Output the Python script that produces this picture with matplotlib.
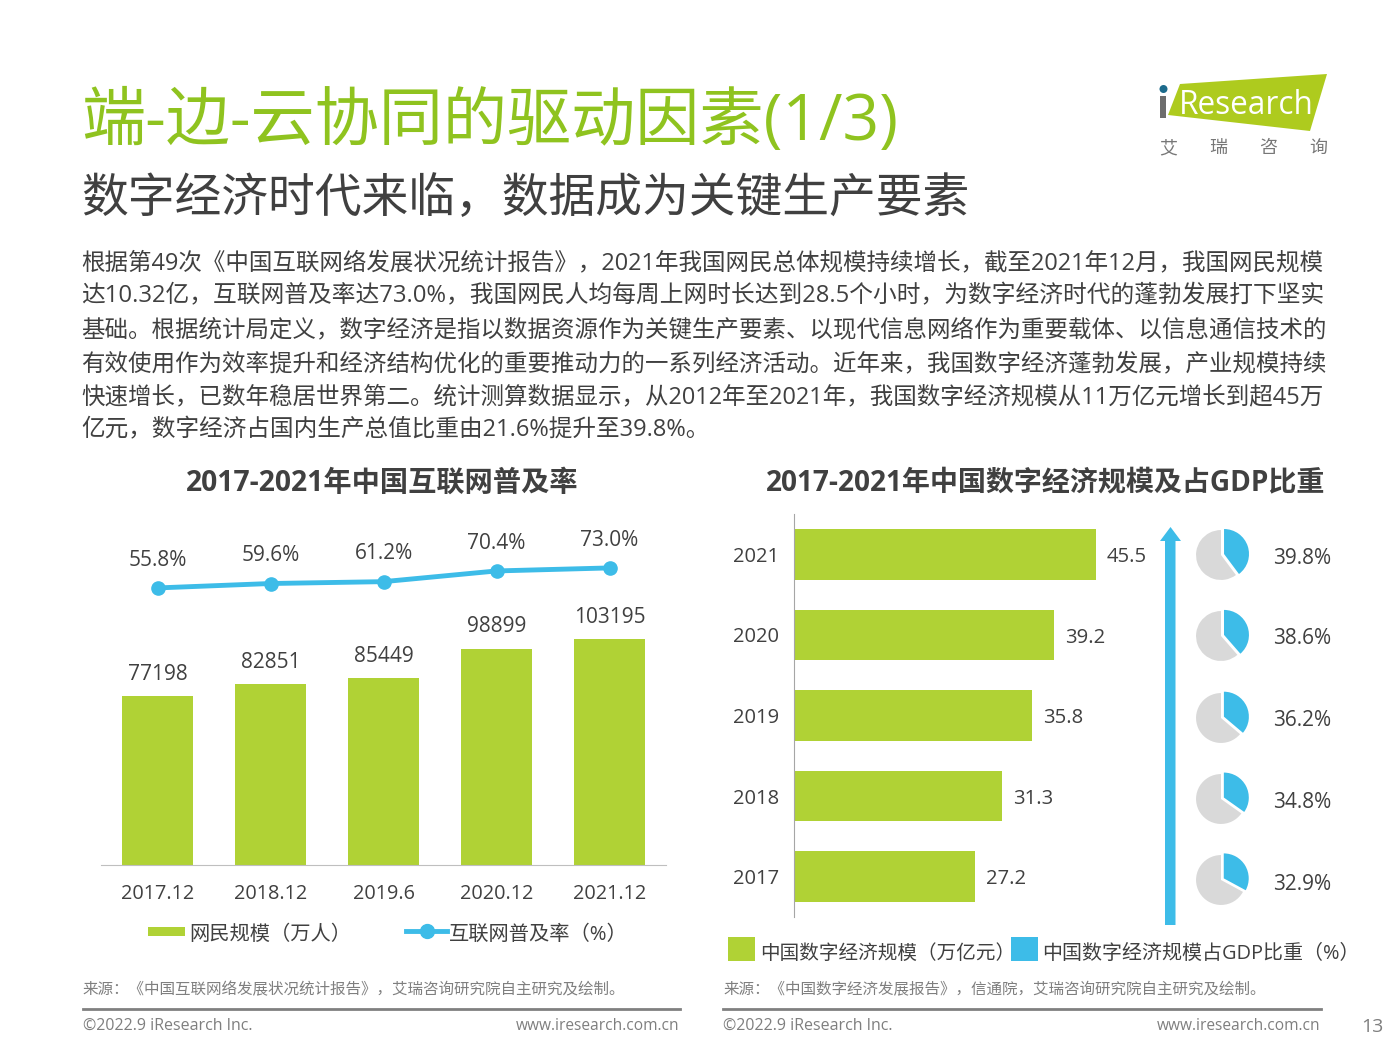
import matplotlib
matplotlib.use("Agg")
import matplotlib.pyplot as plt
from matplotlib.patches import Polygon, Rectangle, Circle
from matplotlib.lines import Line2D

plt.rcParams["font.family"] = ["Open Sans", "Noto Sans CJK SC", "DejaVu Sans"]

W, H = 1400, 1050
GREEN = "#b0d235"
BLUE = "#3dbce8"
GREY_PIE = "#d9d9d9"
TEXT = "#404040"

# left chart
periods = ["2017.12", "2018.12", "2019.6", "2020.12", "2021.12"]
netizens = [77198, 82851, 85449, 98899, 103195]
penetration = [55.8, 59.6, 61.2, 70.4, 73.0]

# right chart
years = ["2017", "2018", "2019", "2020", "2021"]
economy = [27.2, 31.3, 35.8, 39.2, 45.5]
gdp_share = [32.9, 34.8, 36.2, 38.6, 39.8]

body_lines = [
    "根据第49次《中国互联网络发展状况统计报告》，2021年我国网民总体规模持续增长，截至2021年12月，我国网民规模",
    "达10.32亿，互联网普及率达73.0%，我国网民人均每周上网时长达到28.5个小时，为数字经济时代的蓬勃发展打下坚实",
    "基础。根据统计局定义，数字经济是指以数据资源作为关键生产要素、以现代信息网络作为重要载体、以信息通信技术的",
    "有效使用作为效率提升和经济结构优化的重要推动力的一系列经济活动。近年来，我国数字经济蓬勃发展，产业规模持续",
    "快速增长，已数年稳居世界第二。统计测算数据显示，从2012年至2021年，我国数字经济规模从11万亿元增长到超45万",
    "亿元，数字经济占国内生产总值比重由21.6%提升至39.8%。",
]
body_y = [263, 296, 330, 364, 397, 430]


def axes_px(fig, x0, y0, x1, y1, **kw):
    # rectangle given in image pixels, y measured from the top
    return fig.add_axes([x0 / W, 1 - y1 / H, (x1 - x0) / W, (y1 - y0) / H], **kw)


fig = plt.figure(figsize=(14, 10.5), dpi=100, facecolor="white")

# full page overlay in pixel coordinates
page = axes_px(fig, 0, 0, W, H)
page.set_xlim(0, W)
page.set_ylim(H, 0)
page.axis("off")

page.text(81, 123, "端-边-云协同的驱动因素(1/3)", fontsize=46.2, color="#8fc31f", va="center")
page.text(81, 199, "数字经济时代来临，数据成为关键生产要素", fontsize=33.7, color=TEXT, va="center")

# the source text is justified, so stretch every full line to the right margin
renderer = fig.canvas.get_renderer()
for i, (line, y) in enumerate(zip(body_lines, body_y)):
    t = page.text(81.5, y, line, fontsize=17, color=TEXT, va="center")
    if i < len(body_lines) - 1:
        t.set_fontsize(17 * 1243 / t.get_window_extent(renderer).width)

page.text(382, 483, "2017-2021年中国互联网普及率", fontsize=20.3, color=TEXT,
          weight="bold", ha="center", va="center")
page.text(1045.5, 483, "2017-2021年中国数字经济规模及占GDP比重", fontsize=20.2, color=TEXT,
          weight="bold", ha="center", va="center")

# logo
page.add_patch(Polygon([(1180, 84), (1327, 74), (1310, 131), (1168, 115)], color="#aecb1e", lw=0))
page.add_patch(Rectangle((1160, 96), 6, 22, color="#6d6d6d", lw=0))
page.add_patch(Circle((1163.5, 89), 4, color="#1c6b8c", lw=0))
page.text(1179, 106, "Research", fontsize=22.7, color="white", va="center")
for x, ch in zip([1168, 1218, 1268, 1318], "艾瑞咨询"):
    page.text(x, 148, ch, fontsize=13, color="#777777", ha="center", va="center")

# left chart: bars plus penetration line on a second scale
ax = axes_px(fig, 101, 515, 666, 865)
xs = list(range(len(periods)))
ax.bar(xs, netizens, width=0.63, color=GREEN)
ax.set_xlim(-0.5, 4.5)
ax.set_ylim(0, 159900)
ax.set_yticks([])
ax.set_xticks(xs)
ax.set_xticklabels(periods, fontsize=14.3, color=TEXT)
ax.tick_params(axis="x", length=0, pad=14)
for s in ["top", "left", "right"]:
    ax.spines[s].set_visible(False)
ax.spines["bottom"].set_color("#bfbfbf")
for x, v in zip(xs, netizens):
    ax.annotate(str(v), (x, v), xytext=(0, 8), textcoords="offset points",
                ha="center", va="bottom", fontsize=15, color=TEXT)

ax2 = ax.twinx()
ax2.plot(xs, penetration, color=BLUE, lw=3.5, marker="o", ms=9.5)
ax2.set_ylim(-182.4, 118.5)
ax2.axis("off")
for x, v in zip(xs, penetration):
    ax2.annotate(f"{v:.1f}%", (x, v), xytext=(0, 12.5), textcoords="offset points",
                 ha="center", va="bottom", fontsize=15, color=TEXT)

# left legend
page.add_patch(Rectangle((148, 927), 37, 9, color=GREEN, lw=0))
page.text(189, 935, "网民规模（万人）", fontsize=14.6, color=TEXT, va="center")
page.add_line(Line2D([406, 426.5, 447], [931, 931, 931], color=BLUE, lw=3.5,
                     marker="o", ms=10, markevery=[1]))
page.text(449, 935, "互联网普及率（%）", fontsize=14.6, color=TEXT, va="center")

# right chart
bx = axes_px(fig, 794, 514, 1400, 917)
bx.barh(years, economy, height=0.63, color=GREEN)
bx.set_xlim(0, 606 / 6.637)
bx.set_ylim(-0.5, 4.5)
bx.set_xticks([])
bx.tick_params(axis="y", length=0, pad=11, labelsize=14.5, labelcolor=TEXT)
for s in ["top", "bottom", "right"]:
    bx.spines[s].set_visible(False)
bx.spines["left"].set_color("#a6a6a6")
bx.patch.set_alpha(0)
for i, v in enumerate(economy):
    bx.annotate(f"{v:.1f}", (v, i), xytext=(8, -2), textcoords="offset points",
                va="center", fontsize=14.6, color=TEXT)

# growth arrow
page.add_patch(Polygon([(1165, 925), (1165, 541), (1160, 541), (1170.5, 527),
                        (1181, 541), (1175.5, 541), (1175.5, 925)], color=BLUE, lw=0))

# share pies and their labels
pie_y = [880, 799, 718, 636, 555]
label_y = [884, 802, 720, 638, 558]
for share, py, ly in zip(gdp_share, pie_y, label_y):
    pax = axes_px(fig, 1189, py - 32, 1253, py + 32)
    pax.pie([share, 100 - share], colors=[BLUE, GREY_PIE], startangle=90, counterclock=False,
            explode=[0.1, 0], radius=0.78, wedgeprops={"linewidth": 0})
    pax.set_xlim(-1, 1)
    pax.set_ylim(-1, 1)
    page.text(1302, ly, f"{share:.1f}%", fontsize=15, color=TEXT, ha="center", va="center")

# right legend
page.add_patch(Rectangle((728, 937), 27, 24, color=GREEN, lw=0))
page.text(760, 954, "中国数字经济规模（万亿元）", fontsize=14.1, color=TEXT, va="center")
page.add_patch(Rectangle((1011, 937), 27, 24, color=BLUE, lw=0))
page.text(1042, 954, "中国数字经济规模占GDP比重（%）", fontsize=14.4, color=TEXT, va="center")

# sources and footers
page.text(82, 990, "来源：《中国互联网络发展状况统计报告》，艾瑞咨询研究院自主研究及绘制。",
          fontsize=11.2, color="#7f7f7f", va="center")
page.text(723, 990, "来源：《中国数字经济发展报告》，信通院，艾瑞咨询研究院自主研究及绘制。",
          fontsize=11.2, color="#7f7f7f", va="center")
for x0, x1 in [(83, 680), (723, 1321)]:
    page.add_line(Line2D([x0, x1], [1009, 1009], color="#808080", lw=2))
    page.text(x0, 1026, "©2022.9 iResearch Inc.", fontsize=11.5, color="#7f7f7f", va="center")
    page.text(x1 - 1, 1026, "www.iresearch.com.cn", fontsize=11.2, color="#7f7f7f", ha="right", va="center")
page.text(1372, 1027, "13", fontsize=14, color="#7f7f7f", ha="center", va="center")

fig.savefig("out.png", dpi=100)
